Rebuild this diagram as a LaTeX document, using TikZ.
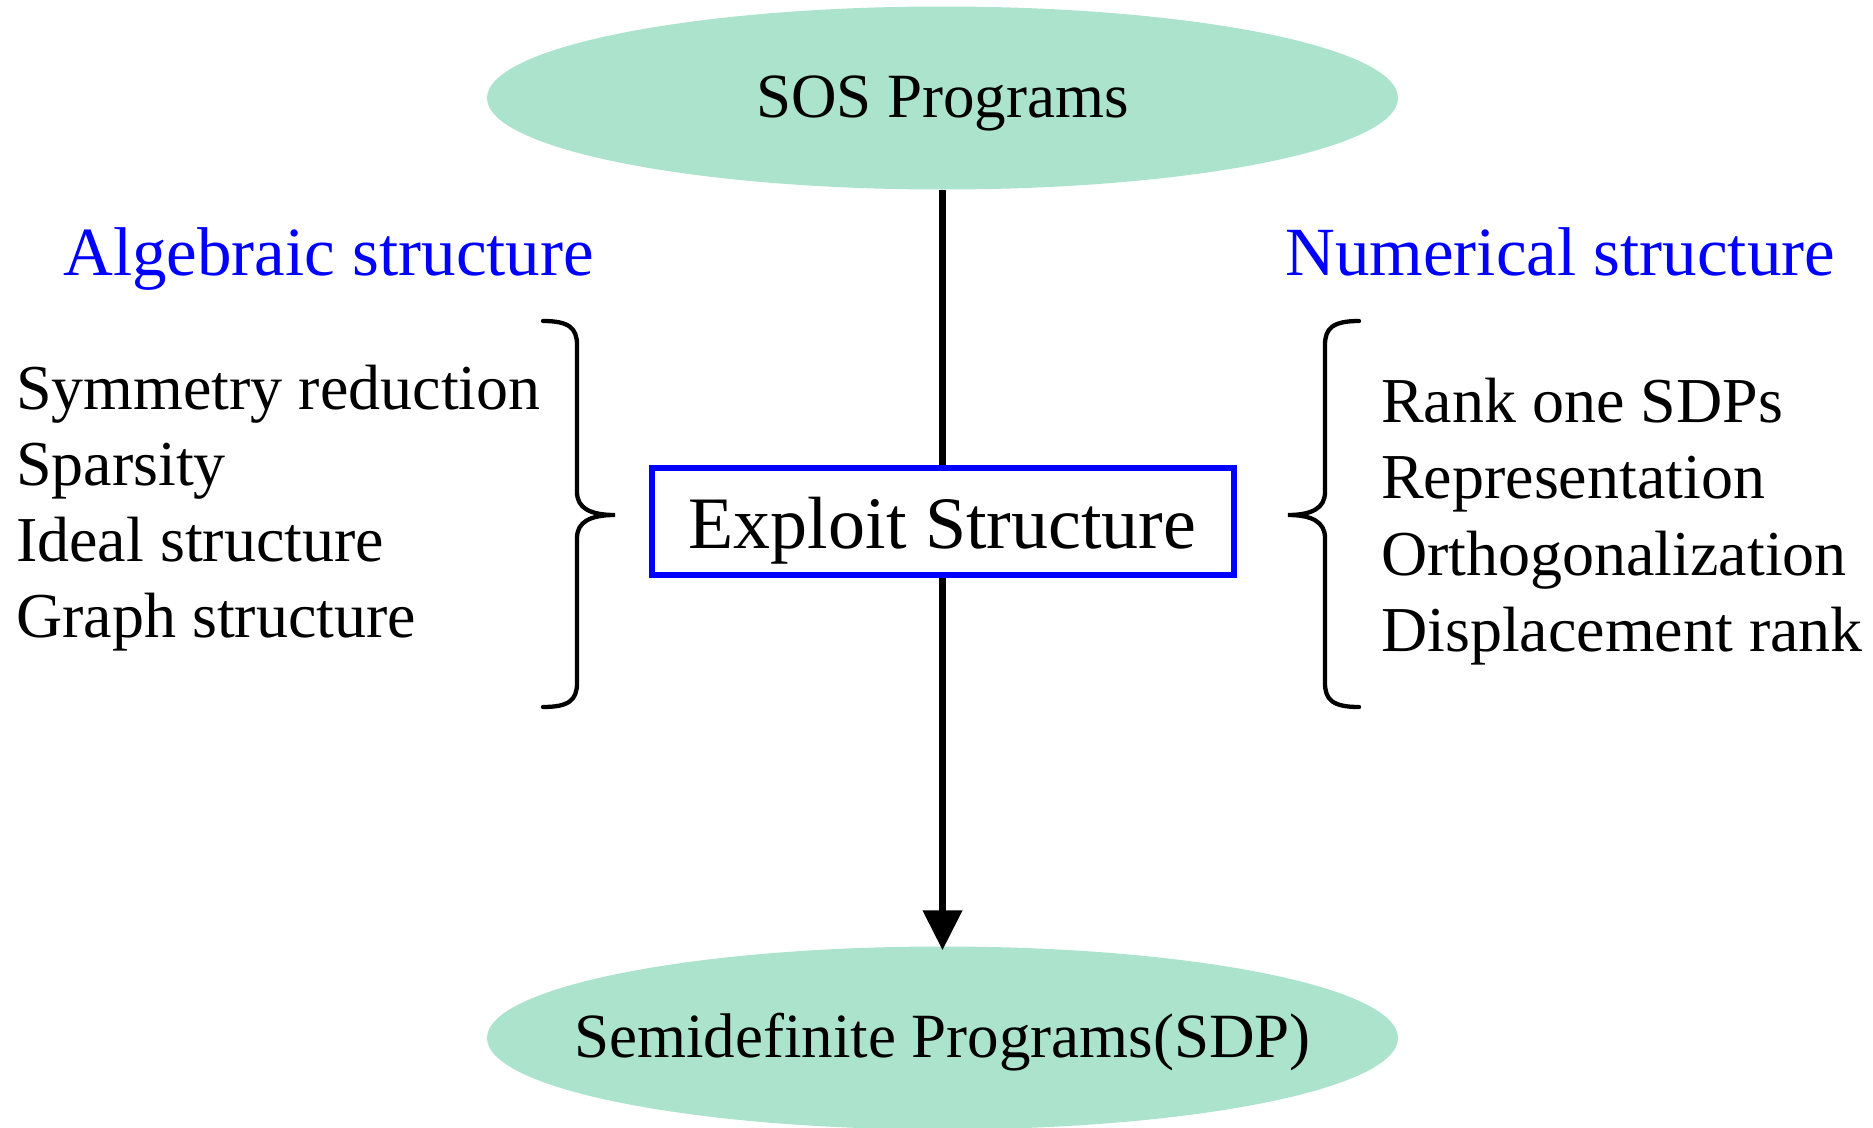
\documentclass[tikz,border=0pt]{standalone}
\usepackage{fontspec}
\setmainfont{Liberation Serif}
\usetikzlibrary{shapes.geometric,arrows.meta}
\definecolor{mint}{RGB}{171,227,205}
\definecolor{pureblue}{RGB}{0,0,255}
\begin{document}
\begin{tikzpicture}[x=1pt,y=-1pt,
  ell/.style={ellipse,fill=mint,draw=none,minimum width=911pt,minimum height=183pt,inner sep=0pt},
  elltext/.style={anchor=base,inner sep=0pt,font=\fontsize{63}{70}\selectfont},
  boxnode/.style={draw=pureblue,line width=6pt,minimum width=582pt,minimum height=107pt,inner sep=0pt,text height=62pt,text depth=8pt,font=\fontsize{74}{80}\selectfont},
  item/.style={anchor=base west,inner sep=0pt,font=\fontsize{64}{70}\selectfont},
  head/.style={anchor=base west,inner sep=0pt,text=pureblue,font=\fontsize{69}{75}\selectfont},
  conn/.style={line width=7.5pt},
  brace/.style={line width=4.3pt,line cap=round}]
\useasboundingbox (0,0) rectangle (1873,1127);
\node[ell] (sos) at (942.5,98) {};
\node[elltext] (sostext) at (942.5,117) {SOS Programs};
\node[ell] (sdp) at (942.5,1038) {};
\node[elltext] (sdptext) at (942.5,1057) {Semidefinite Programs(SDP)};
\node[boxnode] (exp) at (942.5,521.5) {Exploit Structure};
\draw[conn] (sos.south) -- (exp.north);
\draw[conn,-{Triangle[length=40pt,width=38pt]}] (exp.south) -- ([yshift=-4pt]sdp.north);
\node[head] (alg) at (63,275) {Algebraic structure};
\node[head] (num) at (1285,275) {Numerical structure};
\node[item] (l1) at (16,409) {Symmetry reduction};
\node[item] (l2) at (16,485) {Sparsity};
\node[item] (l3) at (16,561) {Ideal structure};
\node[item] (l4) at (16,637) {Graph structure};
\node[item] (r1) at (1381,422) {Rank one SDPs};
\node[item] (r2) at (1381,498) {Representation};
\node[item] (r3) at (1381,575) {Orthogonalization};
\node[item] (r4) at (1381,651) {Displacement rank};
% left brace
\draw[brace] (543,321) .. controls (569,321) and (577,328) .. (577,345)
  -- (577,492) .. controls (577,508) and (590,515) .. (615,515)
  .. controls (590,515) and (577,522) .. (577,538)
  -- (577,683) .. controls (577,700) and (569,707) .. (543,707);
% right brace
\draw[brace] (1359,321) .. controls (1333,321) and (1325,328) .. (1325,345)
  -- (1325,492) .. controls (1325,508) and (1312,515) .. (1288,515)
  .. controls (1312,515) and (1325,522) .. (1325,538)
  -- (1325,683) .. controls (1325,700) and (1333,707) .. (1359,707);
\end{tikzpicture}
\end{document}
